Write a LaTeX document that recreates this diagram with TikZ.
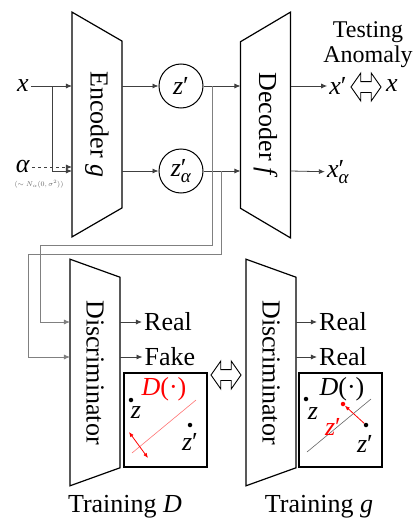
\documentclass[tikz,border=0pt]{standalone}
\usepackage{fontspec}
\setmainfont{Liberation Serif}
\usetikzlibrary{shapes.geometric,shapes.arrows,arrows.meta}

\tikzset{
  net/.style={trapezium, draw, line width=1.2pt, trapezium stretches=true,
    trapezium angle=52, minimum height=50pt, rotate=-90, inner sep=0pt, outer sep=0pt},
  latent/.style={circle, draw, line width=1pt, minimum size=44pt, inner sep=0pt},
  conn/.style={-{Latex[length=6pt,width=5pt]}, line width=0.8pt, black!75},
  feed/.style={conn, black!50},
  hollow/.style={double arrow, draw, line width=0.9pt, fill=white, inner sep=5pt,
    minimum height=30pt, minimum width=27pt, double arrow head extend=8.5pt,
    double arrow tip angle=110},
  plane/.style={draw, line width=1.2pt, minimum width=83pt, minimum height=94pt},
  dot/.style={circle, fill, inner sep=0pt, minimum size=4.5pt},
  lbl/.style={inner sep=2pt}
}

\begin{document}
\begin{tikzpicture}[x=1pt,y=-1pt,font=\fontsize{26}{28}\selectfont]
 \useasboundingbox (0,0) rectangle (419,519);
 % encoder / decoder
 \node[net, minimum width=225pt] (enc) at (97,124.5) {Encoder \textit{g}};
 \node[net, minimum width=226pt, shape border rotate=180] (dec) at (265.5,125) {Decoder \textit{f}};
 \node[latent] (zp) at (181,86) {\textit{z}′};
 \node[latent] (za) at (181,171) {\textit{z}\rlap{′}\raisebox{-.45ex}{\fontsize{19}{20}\selectfont\textit{α}}};
 \node[lbl] (x) at (23,86) {\textit{x}};
 \node[lbl] (alpha) at (23,167) {\textit{α}};
 \node[lbl, black!60, font=\fontsize{7.5}{8}\selectfont] (dist) at (39,184) {$(\sim N_{\alpha}(0,\sigma^2))$};
 \draw[conn] (x) -- (x -| enc.south);
 \coordinate (br) at (52,86);
 \draw[conn] (br) |- (enc.south |- za);
 \draw[conn, dashed] (alpha) -- (alpha -| enc.south);
 \draw[conn] (enc.north |- zp) -- (zp);
 \draw[conn] (enc.north |- za) -- (za);
 \draw[conn] (zp) -- (zp -| dec.south);
 \draw[conn] (za) -- (za -| dec.south);
 % outputs
 \node[lbl] (xp) at (338,86) {\textit{x}′};
 \node[hollow] (cmp) at (366,87) {};
 \node[lbl] (xr) at (392,86) {\textit{x}};
 \node[lbl] (xpa) at (338,172) {\textit{x}\rlap{′}\raisebox{-.45ex}{\fontsize{19}{20}\selectfont\textit{α}}};
 \node[lbl, font=\fontsize{24}{24}\selectfont, align=center] (test) at (368,45) {Testing\\[1pt]Anomaly};
 \draw[conn] (dec.north |- zp) -- (xp);
 \draw[conn] (dec.north |- za) -- (xpa);
 % discriminators
 \node[net, minimum width=227pt] (d1) at (95,372.5) {Discriminator};
 \node[net, minimum width=227pt] (d2) at (271,372.5) {Discriminator};
 \node[lbl] (r1) at (168,322) {Real};
 \node[lbl] (f1) at (170,357) {Fake};
 \node[lbl] (r2) at (343,322) {Real};
 \node[lbl] (r3) at (343,357) {Real};
 \draw[conn] (d1.north |- r1) -- (r1);
 \draw[conn] (d1.north |- f1) -- (f1);
 \draw[conn] (d2.north |- r2) -- (r2);
 \draw[conn] (d2.north |- r3) -- (r3);
 \coordinate (t1) at (212,86); \coordinate (l1) at (40,245);
 \coordinate (t2) at (221,171); \coordinate (l2) at (28,254);
 \draw[feed] (t1) |- (l1) |- (d1.south |- r1);
 \draw[feed] (t2) |- (l2) |- (d1.south |- f1);
 \node[hollow] (swap) at (226,375) {};
 % latent planes
 \node[plane] (p1) at (165.5,420) {};
 \node[plane] (p2) at (340.5,420) {};
 \node[lbl, red] (dq1) at (164,389) {\textit{D}(·)};
 \node[lbl] (dq2) at (342,389) {\textit{D}(·)};
 \draw[red!55, line width=0.6pt] (132,453) -- (196,400);
 \draw[red, line width=0.8pt, {Latex[length=5pt,width=4pt]}-{Latex[length=5pt,width=4pt]}] (129,432) -- (148,458);
 \node[dot] (z1) at (131,400) {};
 \node[lbl] (zl1) at (136,413) {\textit{z}};
 \node[dot] (zq1) at (190,425) {};
 \node[lbl] (zql1) at (190,442) {\textit{z}′};
 \draw[black!60, line width=0.6pt] (307,452) -- (371,399);
 \node[dot] (z2) at (306,399) {};
 \node[lbl] (zl2) at (313,414) {\textit{z}};
 \node[dot, red] (zm2) at (343,404) {};
 \node[dot] (zq2) at (366,425) {};
 \node[lbl] (zql2) at (365,444) {\textit{z}′};
 \node[lbl, red] (zml2) at (333,427) {\textit{z}′};
 \draw[red, line width=0.8pt, -{Latex[length=5pt,width=4pt]}] (zq2) -- (zm2);
 % captions
 \node[lbl] (cap1) at (125,507) {Training \textit{D}};
 \node[lbl] (cap2) at (319,507) {Training \textit{g}};
\end{tikzpicture}
\end{document}
